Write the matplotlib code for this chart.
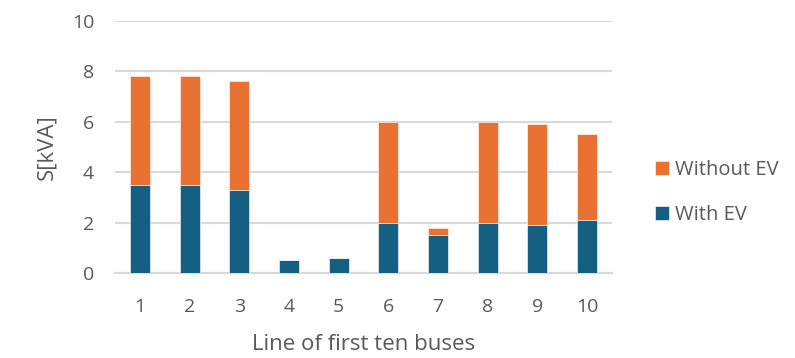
import matplotlib
matplotlib.use("Agg")
import matplotlib.pyplot as plt
import numpy as np

plt.rcParams['font.family'] = ['Open Sans', 'DejaVu Sans']

buses = ["1", "2", "3", "4", "5", "6", "7", "8", "9", "10"]
with_ev = [3.5, 3.5, 3.3, 0.5, 0.6, 2.0, 1.5, 2.0, 1.9, 2.1]
without_ev = [4.3, 4.3, 4.3, 0.0, 0.0, 4.0, 0.3, 4.0, 4.0, 3.4]
y_ticks = [0, 2, 4, 6, 8, 10]

blue = "#156082"
orange = "#E97132"
text_gray = "#595959"
grid_gray = "#D9D9D9"

fig = plt.figure(figsize=(7.95, 3.58), dpi=100)
ax = fig.add_axes([0.1447, 0.2374, 0.625, 0.704])

x = np.arange(1, len(buses) + 1)
width = 0.4
b1 = ax.bar(x, with_ev, width, color=blue, label="With EV", zorder=3,
            edgecolor="white", linewidth=0.4)
b2 = ax.bar(x, without_ev, width, bottom=with_ev, color=orange,
            label="Without EV", zorder=3, edgecolor="white", linewidth=0.4)

ax.set_xlim(0.5, len(buses) + 0.5)
ax.set_ylim(0, 10)
ax.set_yticks(y_ticks)
ax.set_xticks(x)
ax.set_xticklabels(buses)
ax.yaxis.grid(True, color=grid_gray, linewidth=1.5, zorder=0)
ax.set_axisbelow(True)
for side in ["top", "right", "left"]:
    ax.spines[side].set_visible(False)
ax.spines["bottom"].set_color(grid_gray)
ax.spines["bottom"].set_linewidth(1.5)
ax.tick_params(axis="both", length=0, labelsize=14, labelcolor=text_gray)
ax.tick_params(axis="y", pad=15)
ax.tick_params(axis="x", pad=18)

ax.set_xlabel("Line of first ten buses", fontsize=16, color=text_gray, labelpad=13)
ax.set_ylabel("S[kVA]", fontsize=16, color=text_gray)
ax.yaxis.set_label_coords(-0.117, 0.5)

handles = [b2, b1]
ax.legend(handles, ["Without EV", "With EV"], loc="center left",
          bbox_to_anchor=(1.086, 0.32), frameon=False, fontsize=14.5,
          labelcolor=text_gray, handlelength=0.7, handleheight=0.7,
          handletextpad=0.3, labelspacing=1.25, borderpad=0, borderaxespad=0)

fig.savefig("out.png", dpi=100)
